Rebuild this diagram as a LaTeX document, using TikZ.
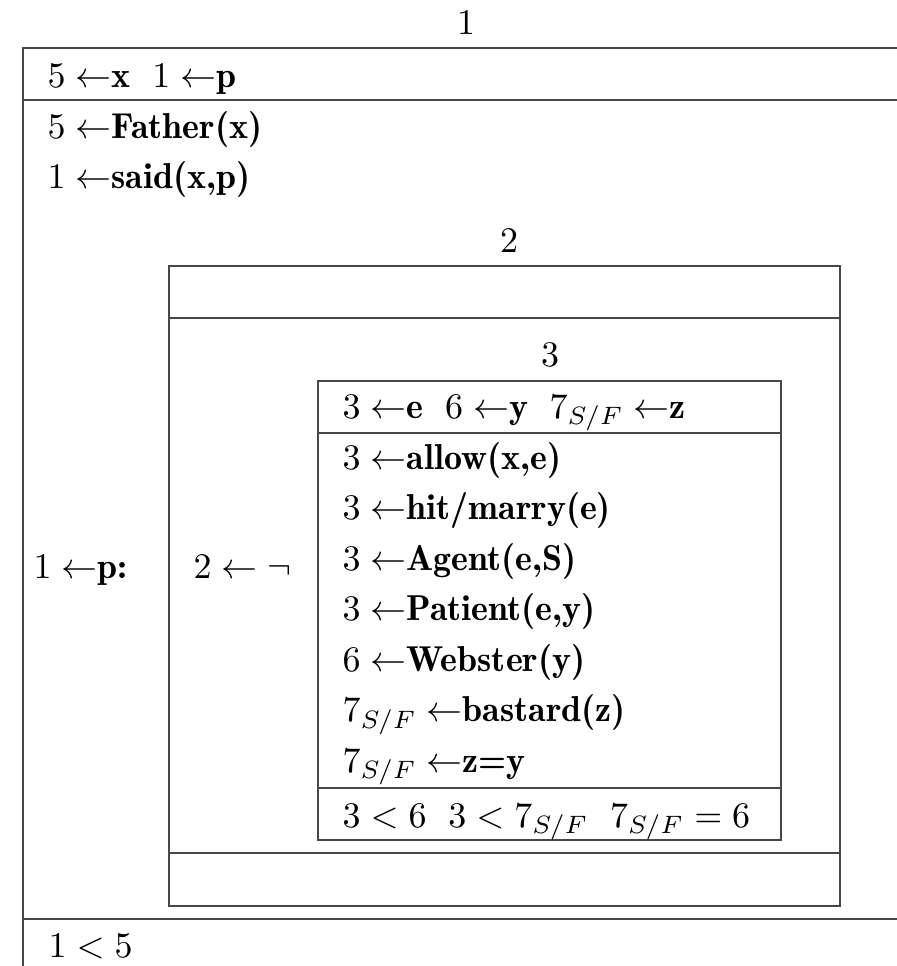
\documentclass[tikz,border=0pt]{standalone}
\newcommand\bw[1]{{\fontseries{b}\selectfont #1}}
\newcommand\gp{\hspace{0.6em}}
\begin{document}
\begin{tikzpicture}[x=0.27778pt,y=-0.27778pt,
  box/.style={draw=black!72,line width=0.45pt},
  txt/.style={anchor=base west,inner sep=0pt,font=\normalsize},
  lab/.style={anchor=base,inner sep=0pt,font=\normalsize}]
\useasboundingbox (0,0) rectangle (897,966);
\clip (0,0) rectangle (897,966);
% box 1
\draw[box] (930,48) -- (23,48) -- (23,990);
\draw[box] (23,100) -- (930,100);
\draw[box] (23,919) -- (930,919);
% box 2
\draw[box] (169,266) rectangle (840,906);
\draw[box] (169,318) -- (840,318);
\draw[box] (169,853) -- (840,853);
% box 3
\draw[box] (318,381) rectangle (781,840);
\draw[box] (318,433) -- (781,433);
\draw[box] (318,788) -- (781,788);
% labels
\node[lab] (l1) at (466,34) {1};
\node[lab] (l2) at (509,252) {2};
\node[lab] (l3) at (550,366) {3};
% box 1 texts
\node[txt] (h1) at (47,87) {$5\leftarrow$\bw{x}\gp$1\leftarrow$\bw{p}};
\node[txt] (t1) at (47,138) {$5\leftarrow$\bw{Father(x)}};
\node[txt] (t2) at (47,188) {$1\leftarrow$\bw{said(x,p)}};
\node[txt] (t3) at (33,578) {$1\leftarrow$\bw{p:}};
\node[txt] (t4) at (193,578) {$2\leftarrow\neg$};
\node[txt] (t5) at (48,957) {$1<5$};
% box 3 texts
\node[txt] (h3) at (342,418) {$3\leftarrow$\bw{e}\gp$6\leftarrow$\bw{y}\gp$7_{S/F}\leftarrow$\bw{z}};
\node[txt] (r1) at (342,469) {$3\leftarrow$\bw{allow(x,e)}};
\node[txt] (r2) at (342,519.5) {$3\leftarrow$\bw{hit/marry(e)}};
\node[txt] (r3) at (342,570) {$3\leftarrow$\bw{Agent(e,S)}};
\node[txt] (r4) at (342,620.5) {$3\leftarrow$\bw{Patient(e,y)}};
\node[txt] (r5) at (342,671) {$6\leftarrow$\bw{Webster(y)}};
\node[txt] (r6) at (342,721.5) {$7_{S/F}\leftarrow$\bw{bastard(z)}};
\node[txt] (r7) at (342,772) {$7_{S/F}\leftarrow$\bw{z=y}};
\node[txt] (f3) at (342,827) {$3<6$\gp$3<7_{S/F}$\gp$7_{S/F}=6$};
\end{tikzpicture}
\end{document}
